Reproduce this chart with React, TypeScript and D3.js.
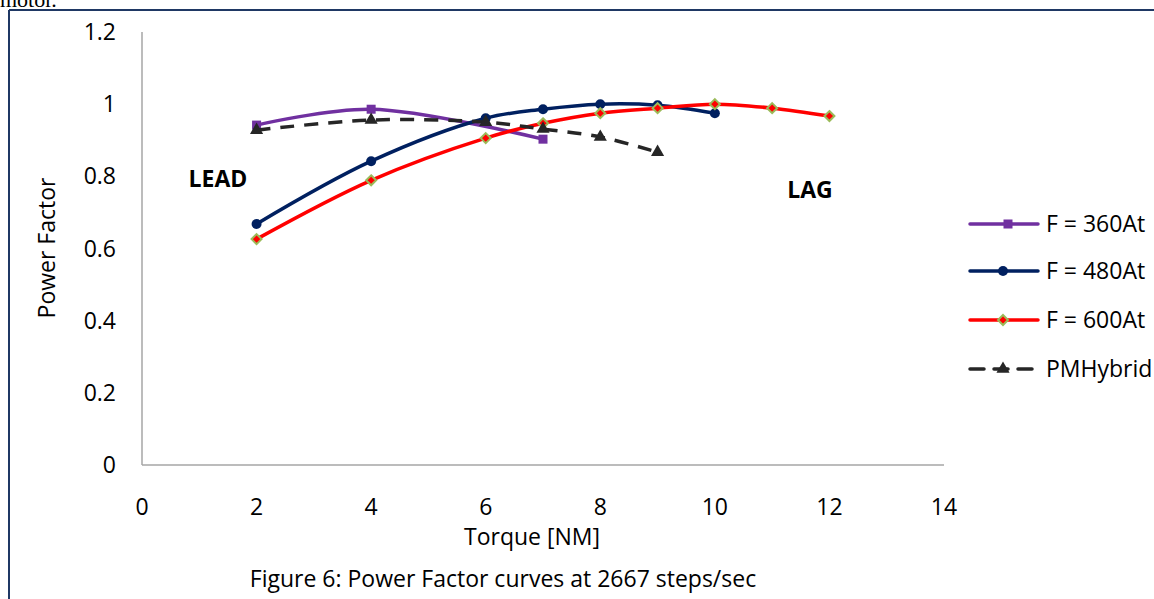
import React from "react";
import * as d3 from "d3";

const xTicks = [0, 2, 4, 6, 8, 10, 12, 14];
const yTicks = [0, 0.2, 0.4, 0.6, 0.8, 1, 1.2];
const yTickLabels = ["0", "0.2", "0.4", "0.6", "0.8", "1", "1.2"];

const s360x = [2, 4, 7];
const s360y = [0.942, 0.986, 0.903];
const s480x = [2, 4, 6, 7, 8, 9, 10];
const s480y = [0.668, 0.842, 0.961, 0.986, 1.0, 0.997, 0.975];
const s600x = [2, 4, 6, 7, 8, 9, 10, 11, 12];
const s600y = [0.626, 0.789, 0.906, 0.947, 0.975, 0.989, 1.0, 0.989, 0.967];
const pmx = [2, 4, 6, 7, 8, 9];
const pmy = [0.928, 0.956, 0.95, 0.931, 0.909, 0.867];

const seriesNames = ["F = 360At", "F = 480At", "F = 600At", "PMHybrid"];

const FONT = "'Open Sans', sans-serif";
const FS = 23;

export default function App() {
  const W = 1154, H = 599;
  const x = d3.scaleLinear().domain([0, 14]).range([142, 944]);
  const y = d3.scaleLinear().domain([0, 1.2]).range([465, 32]);
  const line = d3
    .line<[number, number]>()
    .x((d) => x(d[0]))
    .y((d) => y(d[1]))
    .curve(d3.curveCatmullRom.alpha(0.5));
  const zip = (a: number[], b: number[]) => a.map((v, i) => [v, b[i]] as [number, number]);
  const d360 = zip(s360x, s360y);
  const d480 = zip(s480x, s480y);
  const d600 = zip(s600x, s600y);
  const dpm = zip(pmx, pmy);

  const purple = "#7030A0", navy = "#002060", red = "#FF0000", dark = "#262626", green = "#9BBB59";
  const tri = d3.symbol().type(d3.symbolTriangle).size(75)() as string;
  const diamond = (cx: number, cy: number, k: string) => (
    <path key={k} d={`M${cx},${cy - 5}L${cx + 5},${cy}L${cx},${cy + 5}L${cx - 5},${cy}Z`} fill={red} stroke={green} strokeWidth={2} />
  );

  const legendY = [224, 271, 320, 369];

  return (
    <svg width={W} height={H} style={{ position: "absolute", left: 0, top: 0, display: "block" }}>
      <rect x={0} y={0} width={W} height={H} fill="#fff" />
      <text x={0} y={7} fontFamily="'Liberation Serif', serif" fontSize={22} fill="#000">motor.</text>
      <line x1={9} y1={10} x2={W} y2={10} stroke="#1F3864" strokeWidth={2} />
      <line x1={9} y1={10} x2={9} y2={H} stroke="#1F3864" strokeWidth={2} />

      {/* axes */}
      <line x1={x(0)} y1={y(0)} x2={x(14)} y2={y(0)} stroke="#A6A6A6" strokeWidth={1.5} />
      <line x1={x(0)} y1={y(0)} x2={x(0)} y2={y(1.2)} stroke="#A6A6A6" strokeWidth={1.5} />
      {yTicks.map((t, i) => (
        <text key={"y" + i} x={116} y={y(t)} dy="0.35em" textAnchor="end" fontFamily={FONT} fontSize={FS} fill="#000">
          {yTickLabels[i]}
        </text>
      ))}
      {xTicks.map((t) => (
        <text key={"x" + t} x={x(t)} y={507} dy="0.35em" textAnchor="middle" fontFamily={FONT} fontSize={FS} fill="#000">
          {t}
        </text>
      ))}
      <text x={532} y={537} dy="0.35em" textAnchor="middle" fontFamily={FONT} fontSize={FS} fill="#000">Torque [NM]</text>
      <text transform={`translate(47,248) rotate(-90)`} dy="0.35em" textAnchor="middle" fontFamily={FONT} fontSize={FS} fill="#000">Power Factor</text>
      <text x={503} y={579} dy="0.35em" textAnchor="middle" fontFamily={FONT} fontSize={FS} fill="#000">Figure 6: Power Factor curves at 2667 steps/sec</text>

      <text x={218} y={179} dy="0.35em" textAnchor="middle" fontFamily={FONT} fontSize={FS} fontWeight="bold" fill="#000">LEAD</text>
      <text x={810} y={190} dy="0.35em" textAnchor="middle" fontFamily={FONT} fontSize={FS} fontWeight="bold" fill="#000">LAG</text>

      {/* series */}
      <path d={line(d360) as string} fill="none" stroke={purple} strokeWidth={3.5} strokeLinecap="round" />
      {d360.map((d, i) => (
        <rect key={"p" + i} x={x(d[0]) - 4.5} y={y(d[1]) - 4.5} width={9} height={9} fill={purple} />
      ))}
      <path d={line(d480) as string} fill="none" stroke={navy} strokeWidth={3.5} strokeLinecap="round" />
      {d480.map((d, i) => (
        <circle key={"n" + i} cx={x(d[0])} cy={y(d[1])} r={5} fill={navy} />
      ))}
      <path d={line(d600) as string} fill="none" stroke={red} strokeWidth={3.5} strokeLinecap="round" />
      {d600.map((d, i) => diamond(x(d[0]), y(d[1]), "r" + i))}
      <path d={line(dpm) as string} fill="none" stroke={dark} strokeWidth={3.5} strokeDasharray="14,10" />
      {dpm.map((d, i) => (
        <path key={"t" + i} d={tri} transform={`translate(${x(d[0])},${y(d[1])})`} fill={dark} />
      ))}

      {/* legend */}
      <g>
        <line x1={970} y1={legendY[0]} x2={1038} y2={legendY[0]} stroke={purple} strokeWidth={3.5} strokeLinecap="round" />
        <rect x={1003.5} y={legendY[0] - 4.5} width={9} height={9} fill={purple} />
        <line x1={970} y1={legendY[1]} x2={1038} y2={legendY[1]} stroke={navy} strokeWidth={3.5} strokeLinecap="round" />
        <circle cx={1003} cy={legendY[1]} r={5} fill={navy} />
        <line x1={970} y1={legendY[2]} x2={1038} y2={legendY[2]} stroke={red} strokeWidth={3.5} strokeLinecap="round" />
        {diamond(1003, legendY[2], "ld")}
        <line x1={970} y1={legendY[3]} x2={1038} y2={legendY[3]} stroke={dark} strokeWidth={3.5} strokeDasharray="14,10" strokeLinecap="round" />
        <path d={tri} transform={`translate(1003,${legendY[3]})`} fill={dark} />
        {seriesNames.map((n, i) => (
          <text key={n} x={1046} y={legendY[i]} dy="0.35em" fontFamily={FONT} fontSize={FS} fill="#000">{n}</text>
        ))}
      </g>
    </svg>
  );
}
